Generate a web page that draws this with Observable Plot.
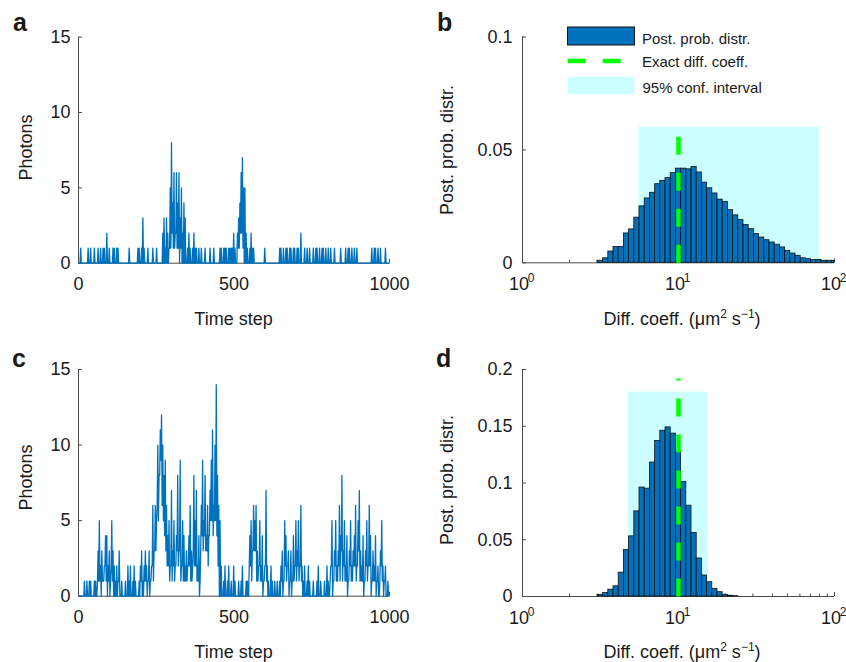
<!DOCTYPE html>
<html><head><meta charset="utf-8">
<script src="https://cdn.jsdelivr.net/npm/d3@7"></script>
<script src="https://cdn.jsdelivr.net/npm/@observablehq/plot@0.6"></script>
<style>
body{margin:0;background:#fff;}
#fig{position:relative;width:846px;height:662px;overflow:hidden;background:#fff;}
.panel{position:absolute;}
</style></head><body><div id="fig"></div>
<script>
// ---------- DATA ----------
// Photon trace, one hex digit per sample of 4 time steps (0..1000):
// "high" = highest count reached in the sample, "low" = lowest count in the sample.
const photonsA = "0100000101" + "0010010101" + "1020100110" + "1100000000" + "1000000110" +
                 "1310010001" + "0010000231" + "3215846264" + "6352430121" + "0121101010" +
                 "0100010010" + "0001101110" + "1111210234" + "6755210121" + "1000000001" +
                 "0000000000" + "0110101101" + "1011011020" + "0101010010" + "1101011010" +
                 "1010010000" + "1000101101" + "0101000000" + "0000010110" + "1010001000";
const lowA     = "0000000000" + "0000000000" + "0000000000" + "0000000000" + "0000000000" +
                 "0000000000" + "0000000000" + "0001121121" + "1010000000" + "0000000000" +
                 "0000000000" + "0000000000" + "0000000011" + "2210000000" + "0000000000" +
                 "0000000000" + "0000000000" + "0000000000" + "0000000000" + "0000000000" +
                 "0000000000" + "0000000000" + "0000000000" + "0000000000" + "0000000000";
const photonsC = "0000101011" + "0011035231" + "2442315321" + "2130100102" + "1201210012" +
                 "3123213126" + "365a8bca89" + "6452735248" + "3925423246" + "3285724169" +
                 "5846479b6a" + "e865201201" + "2010210010" + "1200110453" + "6563252412" +
                 "7210210101" + "0123154231" + "3142535262" + "1201210010" + "0120100102" +
                 "1025135236" + "4835241352" + "3462573241" + "3526413241" + "2035212010";
const lowC     = "0000000000" + "0000011101" + "1210102100" + "0010000000" + "0000000000" +
                 "1001101012" + "1336589654" + "3221212123" + "2312111122" + "1132211034" +
                 "3433245545" + "5420000000" + "0000000000" + "0000000221" + "3331121101" +
                 "2100000000" + "0001012120" + "1011212121" + "0000000000" + "0000000000" +
                 "0012012112" + "1312110121" + "1221231110" + "1212201110" + "1012101000";
const timeSpan = [0, 1000];
const timeTicks = [0, 500, 1000];
const photonTicks = [0, 5, 10, 15];

// posterior histograms: log-spaced bins, 30 per decade, centred on 10^(k/30)
const binsPerDecade = 30;
const firstBinB = 15;
const postB = [0.0009,0.002,0.005,0.007,0.007,0.013,0.0148,0.020,0.025,0.0285,
               0.031,0.0348,0.0363,0.0375,0.0397,0.0417,0.0417,0.0414,0.0425,0.040,
               0.0355,0.033,0.0307,0.028,0.027,0.0233,0.021,0.0189,0.0167,0.0149,
               0.0127,0.0112,0.010,0.009,0.008,0.0068,0.0053,0.0041,0.0031,0.002,
               0.0016,0.0012,0.0012,0.0009,0.0009,0.0009];
const firstBinD = 15;
const postD = [0.0015,0.003,0.006,0.009,0.021,0.041,0.053,0.075,0.096,0.095,
               0.118,0.137,0.146,0.149,0.1435,0.127,0.101,0.080,0.056,0.0335,
               0.0185,0.0126,0.0068,0.0038,0.0015,0.0007,0.0003];
const exactCoeff = 10;
const ciB = [5.57, 80.5], ciTopB = 0.06, dashTopB = 0.06;
const ciD = [4.76, 15.6], ciTopD = 0.18, dashTopD = 0.192;
const probTicksB = [0, 0.05, 0.1];
const probTicksD = [0, 0.05, 0.1, 0.15, 0.2];
const decades = [1, 10, 100];
const minorTicks = [2,3,4,5,6,7,8,9,20,30,40,50,60,70,80,90];
const legendLabels = ["Post. prob. distr.", "Exact diff. coeff.", "95% conf. interval"];
const panelLetters = ["a", "b", "c", "d"];

// ---------- STYLE ----------
const FONT = "'Liberation Sans', Arial, Helvetica, sans-serif";
const BLUE = "#0072BD", GREEN = "#00ff00", CYAN = "#ccffff", AXIS = "#4a4a4a", INK = "#1a1a1a";
const fig = document.getElementById("fig");

function place(svg, left, top) {
  const d = document.createElement("div");
  d.className = "panel"; d.style.left = left + "px"; d.style.top = top + "px";
  d.appendChild(svg); fig.appendChild(d);
}
function addText(svg, x, y, str, o = {}) {
  const t = d3.select(svg).append("text")
    .attr("text-anchor", o.anchor || "middle")
    .attr("font-size", o.size || 18).attr("fill", INK).attr("font-family", FONT);
  if (o.rotate) t.attr("transform", `translate(${x},${y}) rotate(-90)`);
  else t.attr("x", x).attr("y", y);
  if (o.bold) t.attr("font-weight", "bold");
  t.text(str);
  return t;
}
function addCoeffLabel(svg, x, y) {
  const t = d3.select(svg).append("text").attr("x", x).attr("y", y)
    .attr("text-anchor", "middle").attr("font-size", 18).attr("fill", INK).attr("font-family", FONT);
  t.append("tspan").text("Diff. coeff. (\u03bcm");
  t.append("tspan").attr("dy", -7).attr("font-size", 12).text("2");
  t.append("tspan").attr("dy", 7).text(" s");
  t.append("tspan").attr("dy", -7).attr("font-size", 12).text("\u22121");
  t.append("tspan").attr("dy", 7).text(")");
}

function timePanel(hiStr, loStr, mT, mB) {
  const W = 423, H = 331, mL = 78, mR = 34;
  const iw = W - mL - mR, ih = H - mT - mB;
  const hi = Array.from(hiStr, c => parseInt(c, 16));
  const lo = Array.from(loStr, c => parseInt(c, 16));
  const step = (timeSpan[1] - timeSpan[0]) / hi.length;
  // each sample: trace goes down to its low, then up to its high
  const pts = hi.flatMap((h, i) => [
    {t: timeSpan[0] + i * step + step * 0.25, v: lo[i]},
    {t: timeSpan[0] + i * step + step * 0.75, v: h}
  ]);
  return Plot.plot({
    width: W, height: H, marginLeft: mL, marginRight: mR, marginTop: mT, marginBottom: mB,
    style: {fontFamily: FONT, fontSize: "18px", color: INK, background: "transparent"},
    x: {domain: timeSpan, axis: null}, y: {domain: [0, 15], axis: null},
    marks: [
      Plot.ruleX([0], {stroke: AXIS}),
      Plot.ruleY([0], {stroke: AXIS}),
      Plot.tickY(photonTicks, {y: d => d, insetRight: iw - 4, stroke: AXIS}),
      Plot.tickX(timeTicks, {x: d => d, insetTop: ih - 4, stroke: AXIS}),
      Plot.line(pts, {x: "t", y: "v", stroke: BLUE, strokeWidth: 1.3}),
      Plot.axisY({ticks: photonTicks, tickSize: 0, tickPadding: 8, label: null, tickFormat: d => String(d)}),
      Plot.axisX({ticks: timeTicks, tickSize: 0, tickPadding: 14, label: null, tickFormat: d => String(d)})
    ]
  });
}

function histPanel(vals, firstBin, ci, ciTop, dashTop, yTicks, yMax, mT, mB) {
  const W = 423, H = 331, mL = 99, mR = 12;
  const iw = W - mL - mR, ih = H - mT - mB;
  const bars = vals.map((p, j) => {
    const k = firstBin + j;
    return {x1: Math.pow(10, (k - 0.5) / binsPerDecade), x2: Math.min(100, Math.pow(10, (k + 0.5) / binsPerDecade)), p};
  });
  return Plot.plot({
    width: W, height: H, marginLeft: mL, marginRight: mR, marginTop: mT, marginBottom: mB,
    style: {fontFamily: FONT, fontSize: "18px", color: INK, background: "transparent"},
    x: {type: "log", domain: [1, 100], axis: null}, y: {domain: [0, yMax], axis: null},
    marks: [
      Plot.rect([{a: ci[0], b: ci[1], h: ciTop}], {x1: "a", x2: "b", y1: 0, y2: "h", fill: CYAN}),
      Plot.ruleX([1], {stroke: AXIS}),
      Plot.ruleY([0], {stroke: AXIS}),
      Plot.tickY(yTicks, {y: d => d, insetRight: iw - 4, stroke: AXIS}),
      Plot.tickX(decades, {x: d => d, insetTop: ih - 4, stroke: AXIS}),
      Plot.tickX(minorTicks, {x: d => d, insetTop: ih - 2.5, stroke: AXIS}),
      Plot.rect(bars, {x1: "x1", x2: "x2", y1: 0, y2: "p", fill: BLUE, stroke: "#111", strokeWidth: 0.8}),
      Plot.line([{x: exactCoeff, y: 0}, {x: exactCoeff, y: dashTop}],
        {x: "x", y: "y", stroke: GREEN, strokeWidth: 4.5, strokeDasharray: "18,18", strokeLinecap: "butt"}),
      Plot.axisY({ticks: yTicks, tickSize: 0, tickPadding: 10, label: null, tickFormat: d => String(d)}),
      Plot.text(decades, {x: d => d, text: () => "10", frameAnchor: "bottom", lineAnchor: "bottom", dy: 27, dx: -3.5, fontSize: 18}),
      Plot.text(decades, {x: d => d, text: d => String(Math.round(Math.log10(d))), frameAnchor: "bottom", lineAnchor: "bottom", dy: 19.5, dx: 8.7, fontSize: 12})
    ]
  });
}

// ---------- PANELS ----------
const A = timePanel(photonsA, lowA, 36.6, 68.3);
addText(A, 31.5, 147.5, "Photons", {rotate: true});
addText(A, 233.5, 324.7, "Time step");
addText(A, 13, 31, panelLetters[0], {anchor: "start", bold: true, size: 25});
place(A, 0, 0);

const B = histPanel(postB, firstBinB, ciB, ciTopB, dashTopB, probTicksB, 0.1, 36.5, 68.7);
addText(B, 30, 150, "Post. prob. distr.", {rotate: true});
addCoeffLabel(B, 259, 325);
addText(B, 14, 31, panelLetters[1], {anchor: "start", bold: true, size: 25});
{
  const g = d3.select(B).append("g");
  g.append("rect").attr("x", 144.5).attr("y", 27).attr("width", 67).attr("height", 18)
    .attr("fill", BLUE).attr("stroke", "#111").attr("stroke-width", 1);
  g.append("line").attr("x1", 144.7).attr("x2", 201).attr("y1", 61).attr("y2", 61)
    .attr("stroke", GREEN).attr("stroke-width", 4.5).attr("stroke-dasharray", "18,17");
  g.append("rect").attr("x", 144.7).attr("y", 76.7).attr("width", 66.6).attr("height", 17.6).attr("fill", CYAN);
  addText(B, 219, 43.5, legendLabels[0], {anchor: "start", size: 15});
  addText(B, 219, 66.5, legendLabels[1], {anchor: "start", size: 15});
  addText(B, 219.5, 93, legendLabels[2], {anchor: "start", size: 15});
}
place(B, 423, 0);

const C = timePanel(photonsC, lowC, 38, 66.3);
addText(C, 31.5, 146.5, "Photons", {rotate: true});
addText(C, 233.5, 326.7, "Time step");
addText(C, 12, 35.7, panelLetters[2], {anchor: "start", bold: true, size: 25});
place(C, 0, 331);

const D = histPanel(postD, firstBinD, ciD, ciTopD, dashTopD, probTicksD, 0.2, 38, 66);
addText(D, 30, 149, "Post. prob. distr.", {rotate: true});
addCoeffLabel(D, 259, 327);
addText(D, 13, 35.7, panelLetters[3], {anchor: "start", bold: true, size: 25});
place(D, 423, 331);
</script></body></html>
